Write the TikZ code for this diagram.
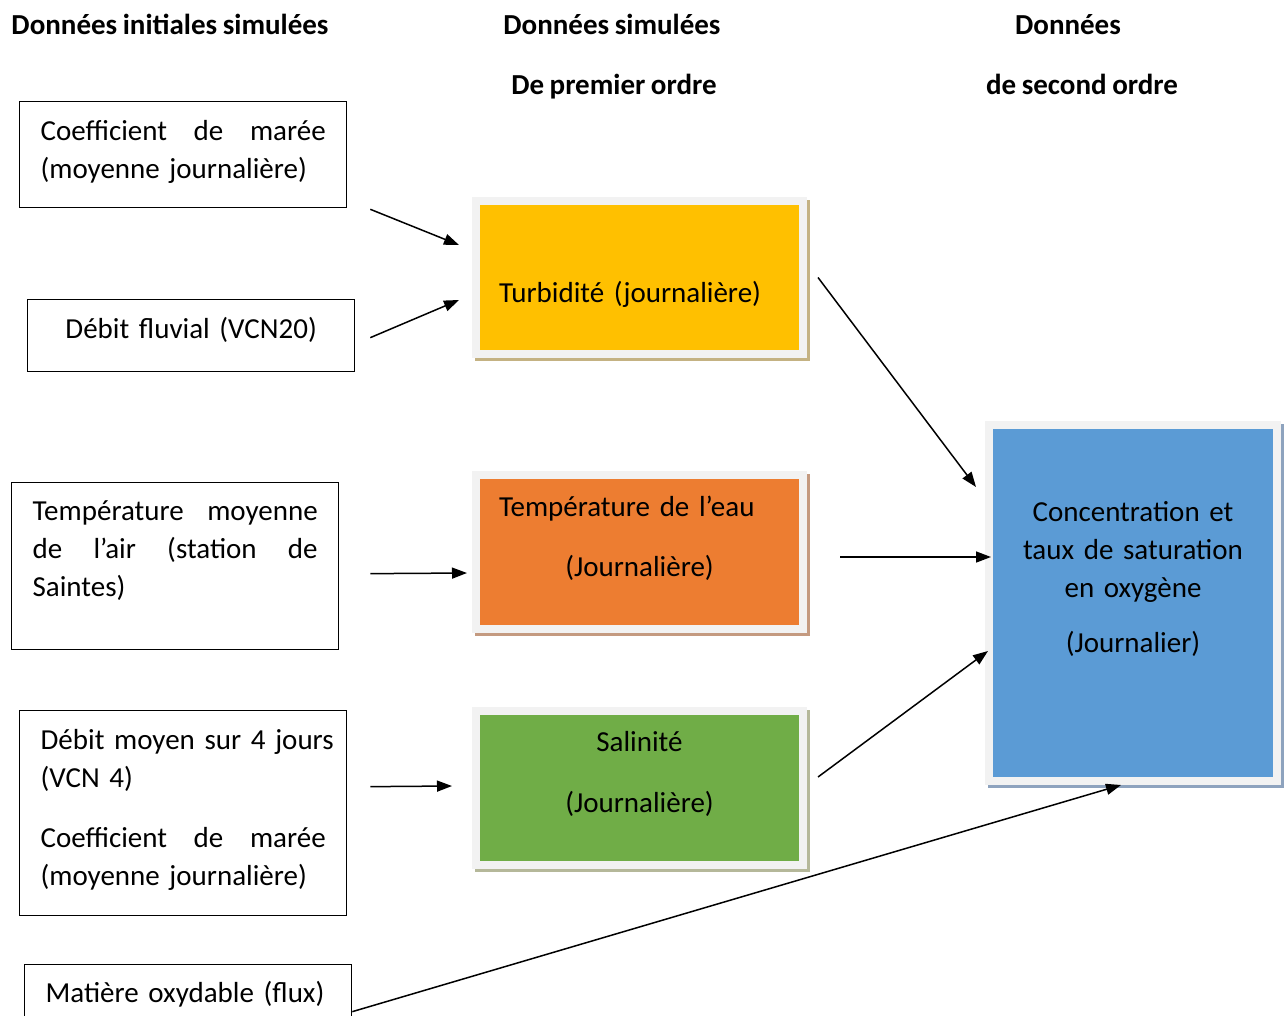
\documentclass[tikz,border=0pt]{standalone}
\usepackage{fontspec}
\setmainfont{Carlito}[WordSpace=0.85]
\usetikzlibrary{arrows.meta,shadows}

\definecolor{turbfill}{HTML}{FFC000}
\definecolor{eaufill}{HTML}{ED7D31}
\definecolor{salfill}{HTML}{70AD47}
\definecolor{oxyfill}{HTML}{5B9BD5}
\definecolor{framegray}{HTML}{F2F2F2}
\definecolor{turbshadow}{HTML}{C4B283}
\definecolor{eaushadow}{HTML}{C49A80}
\definecolor{salshadow}{HTML}{B5B89A}
\definecolor{oxyshadow}{HTML}{8EA3BE}

\begin{document}
\begin{tikzpicture}[x=1pt, y=-1pt,
  every node/.style = {font=\fontsize{29}{38}\selectfont},
  head/.style = {font=\fontsize{29}{38}\selectfont\bfseries, anchor=base},
  inbox/.style = {draw, line width=1.3pt, anchor=north west, inner ysep=0pt,
    inner xsep=21pt, text width=285pt},
  simbox/.style 2 args = {fill=#1, draw=framegray, line width=8pt,
    anchor=north west, inner ysep=0pt,
    drop shadow={shadow xshift=3pt, shadow yshift=-3pt,
      fill=#2, draw=#2, line width=8pt, opacity=1}},
  arr/.style = {line width=1.5pt, -{Triangle[length=15pt,width=11pt]}}]

  \useasboundingbox (0,0) rectangle (1288,1015);

  % column titles
  \node[head] (h1) at (170,34) {Données initiales simulées};
  \node[head] (h2) at (612,34) {Données simulées};
  \node[head] (h2b) at (614,94) {De premier ordre};
  \node[head] (h3) at (1068,34) {Données};
  \node[head] (h3b) at (1082,94) {de second ordre};

  % initial data
  \node[inbox, align=left, text height=39pt, text depth=67pt] (coef) at (19,101)
    {Coefficient\hfill de\hfill marée\\(moyenne journalière)};
  \node[inbox, align=center, text height=39pt, text depth=33pt] (fluvial) at (27,299)
    {Débit fluvial (VCN20)};
  \node[inbox, align=left, text height=38pt, text depth=129pt] (tempair) at (11,482)
    {Température\hfill moyenne\\de\hfill l’air\hfill (station\hfill de\\Saintes)};
  \node[inbox, align=left, text height=39pt, text depth=166pt] (debit4) at (19,710)
    {\mbox{Débit moyen sur 4 jours}\\(VCN 4)\\[22pt]Coefficient\hfill de\hfill marée\\(moyenne journalière)};
  \node[inbox, align=left, text height=38pt, text depth=22pt] (matiere) at (24,964)
    {Matière oxydable (flux)};

  % first order
  \node[simbox={turbfill}{turbshadow}, align=left, inner xsep=23pt, text width=281pt,
    text height=101pt, text depth=52pt] (turb) at (472,197)
    {Turbidité (journalière)};
  \node[simbox={eaufill}{eaushadow}, align=left, inner xsep=23pt, text width=281pt,
    text height=41pt, text depth=113pt] (eau) at (472,471)
    {Température de l’eau\\[22pt]\makebox[\linewidth][c]{(Journalière)}};
  \node[simbox={salfill}{salshadow}, align=center, inner xsep=23pt, text width=281pt,
    text height=40pt, text depth=114pt] (sal) at (472,707)
    {Salinité\\[23pt](Journalière)};

  % second order
  \node[simbox={oxyfill}{oxyshadow}, align=center, inner xsep=10pt, text width=268pt,
    text height=96pt, text depth=260pt] (oxy) at (985,421)
    {Concentration et\\taux de saturation\\en oxygène\\[17pt](Journalier)};

  % links
  \draw[arr] ([xshift=23pt,yshift=-1pt]coef.south east) -- ([xshift=-13pt,yshift=32.5pt]turb.west);
  \draw[arr] ([xshift=15pt,yshift=-2pt]fluvial.east) -- ([xshift=-13pt,yshift=-22.5pt]turb.west);
  \draw[arr] ([xshift=31pt,yshift=-7.5pt]tempair.east) -- ([xshift=-5pt,yshift=-21pt]eau.west);
  \draw[arr] ([xshift=23pt,yshift=26.5pt]debit4.east) -- ([xshift=-20pt,yshift=2pt]sal.west);
  \draw[arr] ([xshift=11pt]turb.east) -- ([xshift=-9pt,yshift=116pt]oxy.west);
  \draw[arr] ([xshift=33pt,yshift=-5pt]eau.east) -- ([xshift=6pt,yshift=46pt]oxy.west);
  \draw[arr] ([xshift=11pt,yshift=11pt]sal.east) -- ([xshift=3pt,yshift=-48pt]oxy.west);
  \draw[arr] ([yshift=-17pt]matiere.east) -- ([xshift=-12pt]oxy.south);
\end{tikzpicture}
\end{document}
